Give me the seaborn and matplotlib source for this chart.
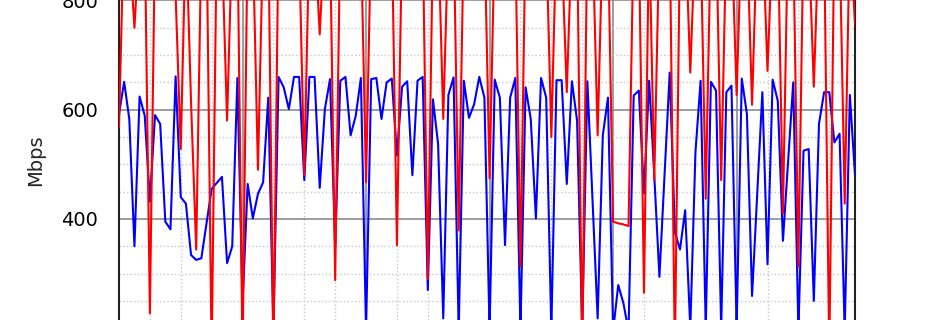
import numpy as np
import pandas as pd
import matplotlib
matplotlib.use("Agg")
import matplotlib.pyplot as plt
from matplotlib.ticker import MultipleLocator
import seaborn as sns

# 10-minute samples over one day (hours)
hours = [i / 6 for i in range(144)]

upload_mbps = [
    592, 651, 583, 350, 624, 589, 432, 590, 574, 395, 381, 661, 440, 428, 334, 325,
    328, 392, 455, 466, 477, 319, 350, 658, 243, 464, 401, 446, 467, 622, 195, 660,
    641, 601, 660, 660, 471, 660, 660, 457, 601, 656, 352, 653, 660, 553, 589, 658,
    195, 656, 658, 583, 650, 657, 516, 642, 652, 480, 653, 660, 270, 619, 537, 218,
    627, 659, 195, 653, 585, 610, 660, 622, 195, 655, 622, 352, 622, 658, 195, 641,
    583, 401, 658, 622, 195, 654, 654, 464, 652, 580, 195, 652, 436, 218, 553, 622,
    195, 279, 246, 195, 626, 635, 447, 653, 480, 294, 481, 668, 376, 344, 416, 200,
    522, 653, 200, 651, 635, 200, 632, 644, 200, 657, 592, 259, 445, 632, 317, 655,
    616, 360, 505, 650, 195, 525, 528, 250, 574, 632, 632, 540, 556, 195, 627, 480,
]

download_mbps = [
    568, 950, 900, 750, 920, 930, 227, 920, 940, 930, 900, 810, 528, 935, 613, 344,
    910, 940, 150, 930, 900, 580, 920, 940, 150, 930, 910, 490, 920, 940, 150, 930,
    920, 900, 940, 900, 480, 930, 920, 738, 930, 920, 288, 930, 940, 910, 930, 920,
    467, 930, 920, 940, 910, 930, 352, 920, 940, 930, 910, 930, 290, 920, 930, 583,
    920, 940, 379, 930, 910, 940, 920, 930, 474, 920, 940, 910, 930, 920, 313, 930,
    940, 910, 930, 920, 550, 930, 900, 632, 920, 930, 150, 940, 920, 553, 930, 920,
    395, 392, 390, 387, 930, 920, 265, 930, 471, 920, 940, 930, 150, 920, 940, 668,
    930, 920, 437, 930, 940, 471, 920, 930, 627, 940, 920, 609, 930, 940, 671, 920,
    930, 410, 940, 920, 313, 930, 910, 642, 930, 920, 150, 940, 920, 428, 930, 756,
]

df = pd.DataFrame({"hour": hours, "up": upload_mbps, "down": download_mbps})

sns.set_style("white")
plt.rcParams["font.family"] = ["DejaVu Sans"]

fig = plt.figure(figsize=(9.5, 3.2), dpi=100)
ax = fig.add_axes([119 / 950, 0.0, (855 - 119) / 950, 1.0])

sns.lineplot(data=df, x="hour", y="up", ax=ax, color="#0000ff", linewidth=1.5, zorder=3)
sns.lineplot(data=df, x="hour", y="down", ax=ax, color="#ff0000", linewidth=1.5, zorder=4)

ax.set_xlim(0, 143 / 6)
ax.set_ylim(215, 800.8)

ax.xaxis.set_major_locator(MultipleLocator(4))
ax.xaxis.set_minor_locator(MultipleLocator(1))
ax.yaxis.set_major_locator(MultipleLocator(200))
ax.yaxis.set_minor_locator(MultipleLocator(50))

ax.grid(which="major", color="#8c8c8c", linestyle="-", linewidth=1.2, zorder=0)
ax.grid(which="minor", color="#c8c8c8", linestyle=":", linewidth=1.0, zorder=0)
ax.set_axisbelow(True)

ax.tick_params(axis="y", which="major", direction="out", length=5, width=1.2,
               labelsize=14, pad=10, colors="#222222", labelcolor="black")
ax.tick_params(axis="y", which="minor", direction="out", length=3, width=1.0, colors="#222222")
ax.tick_params(axis="x", which="both", bottom=False, labelbottom=False)

for side in ("top", "bottom"):
    ax.spines[side].set_visible(False)
for side in ("left", "right"):
    ax.spines[side].set_color("#222222")
    ax.spines[side].set_linewidth(1.5)

ax.set_xlabel("")
ax.set_ylabel("Mbps", fontsize=14, labelpad=12)

fig.savefig("out.png", dpi=100)
